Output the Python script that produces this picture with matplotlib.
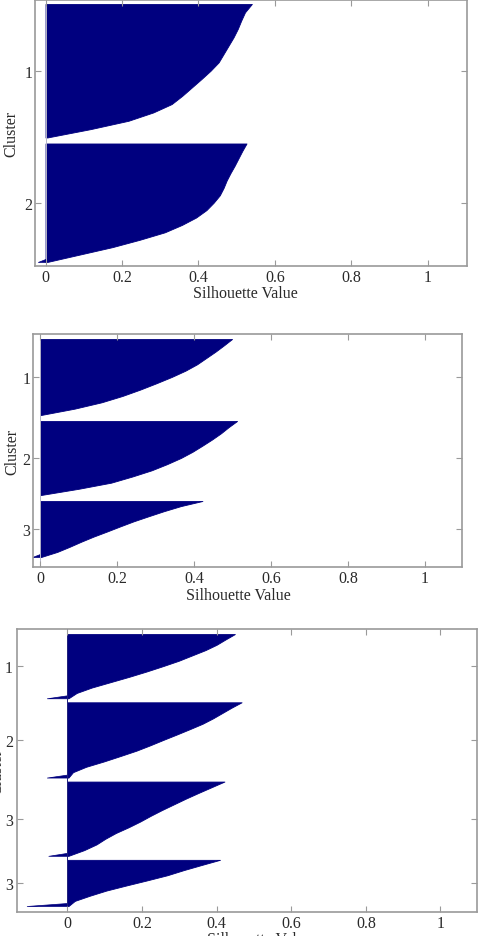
import matplotlib
matplotlib.use("Agg")
import matplotlib.pyplot as plt
import numpy as np

plt.rcParams["font.family"] = ["Liberation Serif", "DejaVu Serif"]
plt.rcParams["font.size"] = 11.5

barColor = "#00007f"
frameColor = "#9a9a9a"
textColor = "#2a2a2a"

# silhouette values per cluster, sampled top to bottom (sorted descending)
p1Cluster1 = [0.540, 0.522, 0.512, 0.503, 0.492, 0.479, 0.466, 0.453, 0.432,
              0.408, 0.383, 0.358, 0.330, 0.282, 0.217, 0.118, 0.005]
p1Cluster2 = [0.526, 0.515, 0.505, 0.495, 0.484, 0.474, 0.466, 0.456, 0.440,
              0.421, 0.394, 0.357, 0.312, 0.247, 0.175, 0.090, 0.005]

p2Cluster1 = [0.499, 0.478, 0.456, 0.432, 0.408, 0.378, 0.342, 0.302, 0.260,
              0.214, 0.160, 0.090, 0.003]
p2Cluster2 = [0.512, 0.490, 0.470, 0.447, 0.422, 0.396, 0.366, 0.330, 0.290,
              0.240, 0.185, 0.100, 0.003]
p2Cluster3 = [0.422, 0.366, 0.322, 0.282, 0.243, 0.208, 0.174, 0.139, 0.107,
              0.077, 0.045, 0.003]

p3Cluster1 = [0.449, 0.424, 0.400, 0.370, 0.334, 0.298, 0.256, 0.212, 0.165,
              0.115, 0.065, 0.025, 0.003]
p3Cluster2 = [0.467, 0.440, 0.415, 0.390, 0.362, 0.328, 0.293, 0.257, 0.222,
              0.185, 0.142, 0.098, 0.050, 0.015, 0.003]
p3Cluster3 = [0.421, 0.386, 0.351, 0.317, 0.285, 0.253, 0.223, 0.195, 0.164,
              0.130, 0.102, 0.078, 0.045, 0.003]
p3Cluster4 = [0.409, 0.360, 0.312, 0.268, 0.214, 0.158, 0.104, 0.060, 0.020,
              0.003]

# most negative value at the bottom of each cluster (0 = none)
p1Tails = [0.0, -0.02]
p2Tails = [0.0, 0.0, -0.02]
p3Tails = [-0.055, -0.055, -0.051, -0.109]

# number of points in each cluster
p1Sizes = [133, 118]
p2Sizes = [76, 74, 56]
p3Sizes = [64, 75, 74, 46]

p1Labels = ["1", "2"]
p2Labels = ["1", "2", "3"]
p3Labels = ["1", "2", "3", "3"]

xTicks = [0, 0.2, 0.4, 0.6, 0.8, 1]
xTickLabels = ["0", "0.2", "0.4", "0.6", "0.8", "1"]


def drawSilhouette(ax, clusters, tails, sizes, labels, topPad, gap, bottomPad,
                   xlim, zeroLine, yPad):
    start = topPad
    centers = []
    for values, tail, size in zip(clusters, tails, sizes):
        y = np.linspace(start, start + size, len(values))
        ax.fill_betweenx(y, 0, values, color=barColor, linewidth=0.6,
                         edgecolor=barColor)
        if tail < 0:
            bottom = start + size
            ax.fill_betweenx([bottom - 3, bottom], 0, [0, tail],
                             color=barColor, linewidth=0.5,
                             edgecolor=barColor)
        centers.append(start + size / 2)
        start += size + gap
    total = start - gap + bottomPad

    ax.axvline(0, color=zeroLine, linewidth=0.7, zorder=1)
    ax.set_ylim(total, 0)
    ax.set_xlim(*xlim)
    ax.set_yticks(centers)
    ax.set_yticklabels(labels)
    ax.set_xticks(xTicks)
    ax.set_xticklabels(xTickLabels)
    ax.tick_params(direction="in", length=4, width=0.8, color=frameColor,
                   labelcolor=textColor, top=True, right=True)
    ax.tick_params(axis="x", pad=2.5)
    ax.tick_params(axis="y", pad=yPad)
    for spine in ax.spines.values():
        spine.set_color(frameColor)
        spine.set_linewidth(1.2)


fig = plt.figure(figsize=(4.85, 9.37), dpi=100)

ax1 = fig.add_axes([0.0722, 0.7151, 0.8907, 0.2839])
drawSilhouette(ax1, [p1Cluster1, p1Cluster2], p1Tails, p1Sizes, p1Labels,
               4, 6, 4, (-0.0275, 1.103), "#b4b4c8", 2)
ax1.set_xlabel("Silhouette Value", color=textColor)
ax1.xaxis.set_label_coords(0.486, -0.072)
ax1.set_ylabel("Cluster", color=textColor)
ax1.yaxis.set_label_coords(-0.037, 0.5)

ax2 = fig.add_axes([0.0680, 0.3938, 0.8845, 0.2487])
drawSilhouette(ax2, [p2Cluster1, p2Cluster2, p2Cluster3], p2Tails, p2Sizes,
               p2Labels, 5, 6, 10, (-0.018, 1.096), "#b4b4c8", 2)
ax2.set_xlabel("Silhouette Value", color=textColor)
ax2.xaxis.set_label_coords(0.478, -0.086)
ax2.set_ylabel("Cluster", color=textColor)
ax2.yaxis.set_label_coords(-0.03, 0.5)

ax3 = fig.add_axes([0.0351, 0.0256, 0.9485, 0.3020])
drawSilhouette(ax3, [p3Cluster1, p3Cluster2, p3Cluster3, p3Cluster4],
               p3Tails, p3Sizes, p3Labels, 5, 4, 6, (-0.135, 1.098),
               "#20207a", 3)
ax3.set_xlabel("Silhouette Value", color=textColor)
ax3.xaxis.set_label_coords(0.526, -0.068)
ax3.set_ylabel("Cluster", color=textColor)
ax3.yaxis.set_label_coords(-0.026, 0.5)

fig.savefig("out.png", dpi=100)
